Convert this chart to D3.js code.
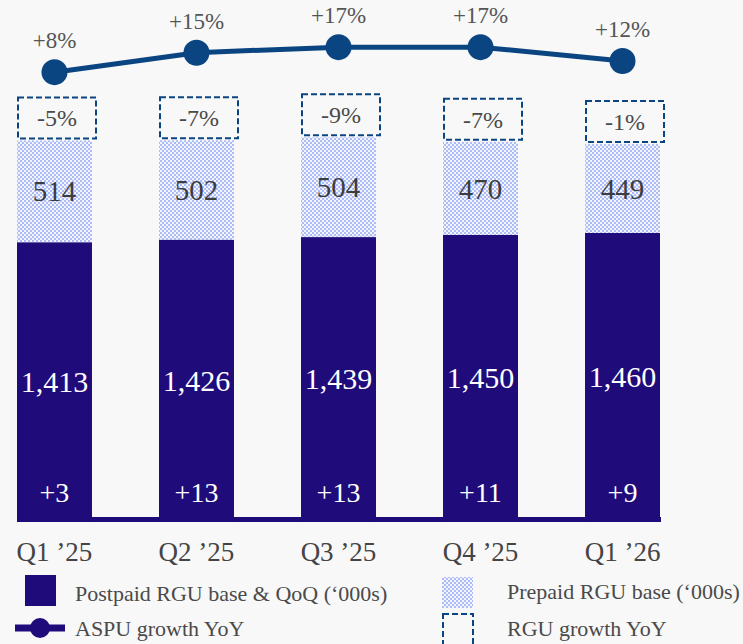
<!DOCTYPE html>
<html>
<head>
<meta charset="utf-8">
<script src="https://cdn.jsdelivr.net/npm/d3@7"></script>
<style>
  html, body { margin: 0; padding: 0; background: #f8f8f8; }
  svg { display: block; }
  text { font-family: "Liberation Serif", "Times New Roman", serif; }
</style>
</head>
<body>
<script>
// Quarterly RGU base and growth figures
const categories = ["Q1 \u201925", "Q2 \u201925", "Q3 \u201925", "Q4 \u201925", "Q1 \u201926"];
const postpaid = [1413, 1426, 1439, 1450, 1460];      // postpaid RGU base ('000s)
const postpaidQoQ = [3, 13, 13, 11, 9];               // postpaid net adds QoQ ('000s)
const prepaid = [514, 502, 504, 470, 449];            // prepaid RGU base ('000s)
const rguGrowth = [-5, -7, -9, -7, -1];               // RGU growth YoY (%)
const aspuGrowth = [8, 15, 17, 17, 12];               // ASPU growth YoY (%)

const W = 743, H = 644;
const INDIGO = "#200b7b";
const BLUE = "#0a4582";
const TEXT = "#444444";

const svg = d3.select("body").append("svg")
  .attr("width", W).attr("height", H);

// checkerboard fill for the prepaid segments
const defs = svg.append("defs");
const pat = defs.append("pattern")
  .attr("id", "checker")
  .attr("patternUnits", "userSpaceOnUse")
  .attr("width", 4).attr("height", 4);
pat.append("rect").attr("width", 4).attr("height", 4).attr("fill", "#f3f5fe");
pat.append("rect").attr("width", 2).attr("height", 2).attr("fill", "#aebcf6");
pat.append("rect").attr("x", 2).attr("y", 2).attr("width", 2).attr("height", 2).attr("fill", "#aebcf6");

const data = categories.map((c, i) => ({
  cat: c,
  post: postpaid[i],
  qoq: postpaidQoQ[i],
  pre: prepaid[i],
  rgu: rguGrowth[i],
  aspu: aspuGrowth[i]
}));

const x = d3.scaleBand()
  .domain(categories)
  .range([17, 660])
  .paddingInner(0.472)
  .paddingOuter(0);

const y = d3.scaleLinear().domain([0, 2000]).range([522, 126]);
const yLine = d3.scaleLinear().domain([0, 20]).range([94.4, 38.8]);

const bw = x.bandwidth();
const cx = d => x(d.cat) + bw / 2;
const fmt = d3.format(",");
const signed = v => (v > 0 ? "+" : "") + v;

// baseline strip
svg.append("rect")
  .attr("x", x.range()[0]).attr("y", y(0) - 5)
  .attr("width", x.range()[1] - x.range()[0] + 1).attr("height", 5)
  .attr("fill", INDIGO);

const g = svg.append("g");

// postpaid segments
g.selectAll("rect.post").data(data).join("rect")
  .attr("class", "post")
  .attr("x", d => x(d.cat))
  .attr("y", d => y(d.post))
  .attr("width", bw)
  .attr("height", d => y(0) - y(d.post))
  .attr("fill", INDIGO);

// prepaid segments stacked on top
g.selectAll("rect.pre").data(data).join("rect")
  .attr("class", "pre")
  .attr("x", d => x(d.cat))
  .attr("y", d => y(d.post + d.pre))
  .attr("width", bw)
  .attr("height", d => y(d.post) - y(d.post + d.pre))
  .attr("fill", "url(#checker)");

// postpaid base labels
g.selectAll("text.postv").data(data).join("text")
  .attr("x", cx)
  .attr("y", d => (y(d.post) + y(0)) / 2)
  .attr("dy", "0.33em")
  .attr("text-anchor", "middle")
  .attr("font-size", 30)
  .attr("fill", "#ffffff")
  .text(d => fmt(d.post));

// QoQ labels near the base
g.selectAll("text.qoq").data(data).join("text")
  .attr("x", cx)
  .attr("y", y(0) - 20)
  .attr("text-anchor", "middle")
  .attr("font-size", 28)
  .attr("fill", "#ffffff")
  .text(d => signed(d.qoq));

// prepaid base labels
g.selectAll("text.prev").data(data).join("text")
  .attr("x", cx)
  .attr("y", d => (y(d.post) + y(d.post + d.pre)) / 2)
  .attr("dy", "0.35em")
  .attr("text-anchor", "middle")
  .attr("font-size", 29)
  .attr("fill", "#3d3d3d")
  .text(d => d.pre);

// RGU growth YoY dashed boxes
const boxW = 78, boxH = 41;
g.selectAll("rect.rgu").data(data).join("rect")
  .attr("x", d => x(d.cat) + 1)
  .attr("y", d => y(d.post + d.pre) - boxH - 2)
  .attr("width", boxW)
  .attr("height", boxH)
  .attr("fill", "none")
  .attr("stroke", BLUE)
  .attr("stroke-width", 2)
  .attr("stroke-dasharray", "6,3");

g.selectAll("text.rgu").data(data).join("text")
  .attr("x", d => x(d.cat) + 1 + boxW / 2)
  .attr("y", d => y(d.post + d.pre) - 2 - boxH / 2)
  .attr("dy", "0.35em")
  .attr("text-anchor", "middle")
  .attr("font-size", 24)
  .attr("fill", "#4a4a4a")
  .text(d => d.rgu + "%");

// ASPU growth line
const line = d3.line().x(cx).y(d => yLine(d.aspu));
g.append("path")
  .datum(data)
  .attr("d", line)
  .attr("fill", "none")
  .attr("stroke", BLUE)
  .attr("stroke-width", 5);

g.selectAll("circle.aspu").data(data).join("circle")
  .attr("cx", cx)
  .attr("cy", d => yLine(d.aspu))
  .attr("r", 13)
  .attr("fill", BLUE);

g.selectAll("text.aspu").data(data).join("text")
  .attr("x", cx)
  .attr("y", d => yLine(d.aspu) - 24)
  .attr("text-anchor", "middle")
  .attr("font-size", 23)
  .attr("fill", "#555555")
  .text(d => signed(d.aspu) + "%");

// category axis labels
const xAxis = d3.axisBottom(x).tickSize(0).tickPadding(0);
const ax = svg.append("g")
  .attr("transform", `translate(0,${y(0)})`)
  .call(xAxis);
ax.select(".domain").remove();
ax.selectAll(".tick text")
  .attr("dy", null)
  .attr("y", 39)
  .attr("font-size", 27)
  .attr("font-family", "\"Liberation Serif\", serif")
  .attr("fill", TEXT);

// legend
const leg = svg.append("g");
leg.append("rect").attr("x", 25).attr("y", 575).attr("width", 31).attr("height", 31).attr("fill", INDIGO);
leg.append("text").attr("x", 75).attr("y", 601).attr("font-size", 22).attr("fill", "#4a4a4a")
  .text("Postpaid RGU base & QoQ (\u2018000s)");

leg.append("line").attr("x1", 15).attr("x2", 65).attr("y1", 628).attr("y2", 628)
  .attr("stroke", INDIGO).attr("stroke-width", 7);
leg.append("circle").attr("cx", 40).attr("cy", 628).attr("r", 10).attr("fill", INDIGO);
leg.append("text").attr("x", 75).attr("y", 636).attr("font-size", 22).attr("fill", "#4a4a4a")
  .text("ASPU growth YoY");

leg.append("rect").attr("x", 442).attr("y", 577).attr("width", 31).attr("height", 31).attr("fill", "url(#checker)");
leg.append("text").attr("x", 507).attr("y", 599).attr("font-size", 22).attr("fill", "#4a4a4a")
  .text("Prepaid RGU base (\u2018000s)");

leg.append("rect").attr("x", 443).attr("y", 614).attr("width", 30).attr("height", 31)
  .attr("fill", "none").attr("stroke", BLUE).attr("stroke-width", 2).attr("stroke-dasharray", "6,3");
leg.append("text").attr("x", 507).attr("y", 636).attr("font-size", 22).attr("fill", "#4a4a4a")
  .text("RGU growth YoY");
</script>
</body>
</html>
